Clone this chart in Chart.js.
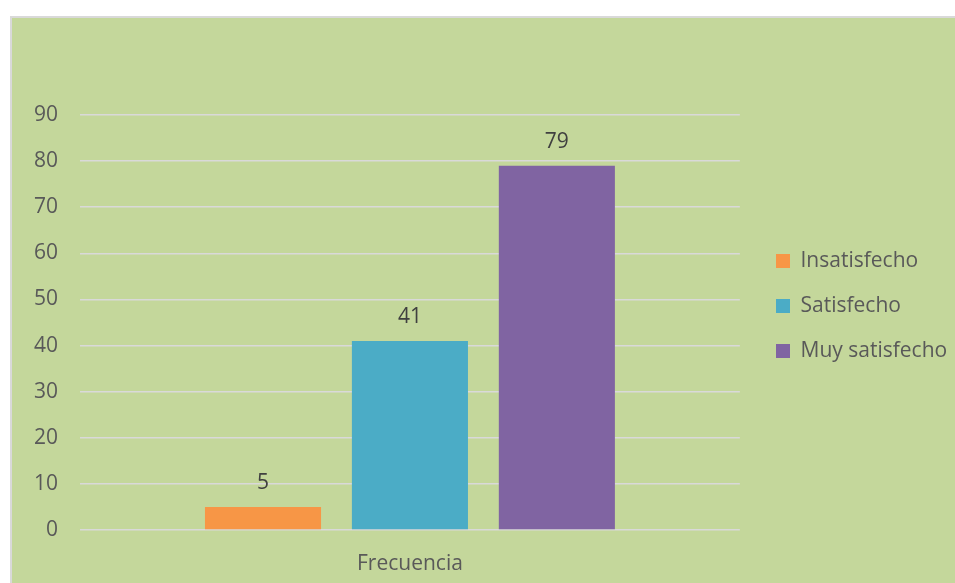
<!DOCTYPE html>
<html>
<head>
<meta charset="utf-8">
<script src="https://cdn.jsdelivr.net/npm/chart.js@4"></script>
<style>
  body { margin: 0; background: #fff; }
  #box {
    position: absolute; left: 10px; top: 16px; width: 945px; height: 567px;
    background: #c4d79b; border-top: 2px solid #d9d9d9; border-left: 2px solid #d9d9d9;
  }
  canvas { display: block; }
</style>
</head>
<body>
<div id="box"><canvas id="chart" width="943" height="565"></canvas></div>
<script>
// Data
const categories = ["Frecuencia"];
const seriesNames = ["Insatisfecho", "Satisfecho", "Muy satisfecho"];
const seriesValues = [[5], [41], [79]];
const seriesColors = ["#f79646", "#4bacc6", "#8064a2"];

const font = { family: "'Open Sans'", size: 21 };

// values above the bars
const valueLabels = {
    id: "valueLabels",
    afterDatasetsDraw(chart) {
        const ctx = chart.ctx;
        ctx.save();
        ctx.font = "21px 'Open Sans'";
        ctx.fillStyle = "#404040";
        ctx.textAlign = "center";
        ctx.textBaseline = "middle";
        chart.data.datasets.forEach((ds, i) => {
            chart.getDatasetMeta(i).data.forEach((bar, j) => {
                ctx.fillText(ds.data[j], bar.x, bar.y - 24);
            });
        });
        ctx.restore();
    },
};

// nudge the legend to where the original sits
const legendShift = {
    id: "legendShift",
    afterLayout(chart) {
        const lg = chart.legend;
        const dx = 740 - lg.left;
        lg.left += dx; lg.right += dx;
        lg.top -= 43; lg.bottom -= 43;
    },
};

new Chart(document.getElementById("chart"), {
    type: "bar",
    data: {
        labels: categories,
        datasets: seriesNames.map((name, i) => ({
            label: name,
            data: seriesValues[i],
            backgroundColor: seriesColors[i],
            categoryPercentage: 0.668,
            barPercentage: 0.79,
        })),
    },
    options: {
        responsive: false,
        animation: false,
        layout: { padding: { top: 97, left: 0, right: 10, bottom: 0 } },
        plugins: {
            tooltip: { enabled: false },
            legend: {
                position: "right",
                maxWidth: 215,
                labels: {
                    font: font,
                    color: "#595959",
                    boxWidth: 14,
                    boxHeight: 14,
                    padding: 24,
                },
            },
        },
        scales: {
            x: {
                grid: { display: false },
                border: { display: false },
                ticks: { font: font, color: "#595959", padding: 13 },
                afterFit(s) { s.height = 53; },
            },
            y: {
                min: 0,
                max: 90,
                grid: { color: "#d9d9d9", lineWidth: 1.5, drawTicks: false },
                border: { display: false },
                ticks: { stepSize: 10, font: font, color: "#595959", padding: 22 },
                afterFit(s) { s.width = 68; },
            },
        },
    },
    plugins: [valueLabels, legendShift],
});
</script>
</body>
</html>
